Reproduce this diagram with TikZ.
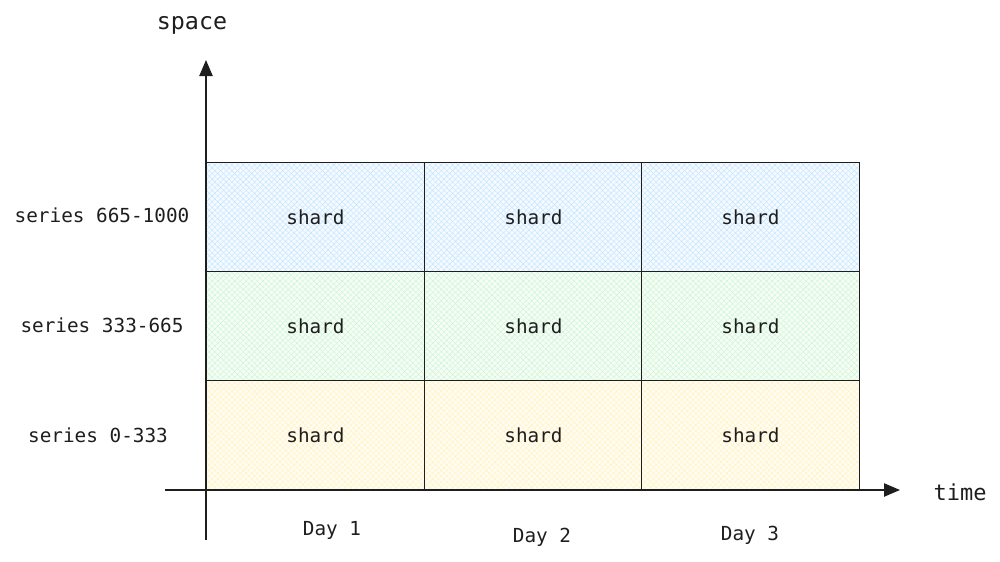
\documentclass[tikz,border=0pt]{standalone}
\usepackage{fontspec}
\setmonofont{DejaVu Sans Mono}
\usetikzlibrary{patterns.meta,arrows.meta}
\definecolor{ink}{HTML}{1E1E1E}
\definecolor{hblue}{HTML}{A5D8FF}
\definecolor{hgreen}{HTML}{B2F2BB}
\definecolor{hyellow}{HTML}{FFEC99}
\tikzset{
  cellbox/.style={draw=ink, line width=0.8pt, minimum width=163.5pt, minimum height=81.75pt, inner sep=0pt, anchor=north west, font=\ttfamily\fontsize{14.5}{16}\selectfont, text=ink},
  hatch/.style={
    preaction={fill=#1!12},
    preaction={pattern={Lines[angle=45,distance=3pt,line width=0.3pt]}, pattern color=#1!70},
    preaction={pattern={Lines[angle=-45,distance=3pt,line width=0.3pt]}, pattern color=#1!70}},
  lbl/.style={font=\ttfamily\fontsize{14.5}{16}\selectfont, text=ink, inner sep=0pt},
  axis/.style={draw=ink, line width=1pt, -{Triangle[length=12pt,width=10pt]}},
}
\begin{document}
\begin{tikzpicture}[x=0.75pt,y=-0.75pt]
\useasboundingbox (0,0) rectangle (1000,561);
% cells
\foreach \c/\x in {1/206,2/424,3/641}{
  \node[cellbox, hatch=hblue]   (t\c) at (\x,162) {shard};
  \node[cellbox, hatch=hgreen]  (m\c) at (\x,271) {shard};
  \node[cellbox, hatch=hyellow] (b\c) at (\x,380) {shard};
}
% axes
\coordinate (vs) at (206,540);
\coordinate (ve) at (206,60);
\coordinate (hs) at (165,490);
\coordinate (he) at (900,490);
\draw[axis] (vs) -- (ve);
\draw[axis] (hs) -- (he);
% labels
\node[lbl, font=\ttfamily\fontsize{17.5}{20}\selectfont] (space) at (192,25) {space};
\node[lbl, font=\ttfamily\fontsize{16.5}{19}\selectfont] (time) at (960,492) {time};
\node[lbl] (s3) at (102,215) {series 665-1000};
\node[lbl] (s2) at (102,325) {series 333-665};
\node[lbl] (s1) at (98,435) {series 0-333};
\node[lbl] (d1) at (332,530) {Day 1};
\node[lbl] (d2) at (542,537) {Day 2};
\node[lbl] (d3) at (750,535) {Day 3};
\end{tikzpicture}
\end{document}
